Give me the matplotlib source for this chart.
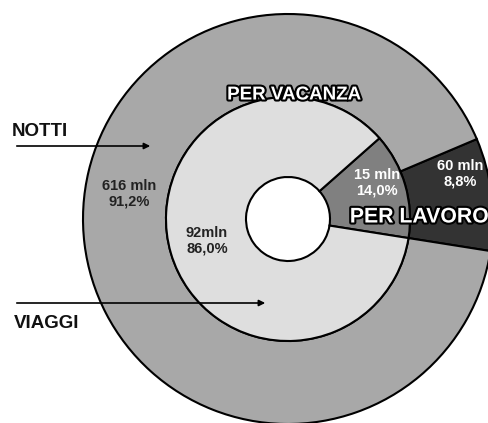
from matplotlib import pyplot as plt
import matplotlib.patheffects as pe

# order: per lavoro, per vacanza
categories = ['PER LAVORO', 'PER VACANZA']
notti_mln = [60, 616]
notti_labels = ['60 mln\n8,8%', '616 mln\n91,2%']
viaggi_mln = [15, 92]
viaggi_labels = ['15 mln\n14,0%', '92mln\n86,0%']

W, H = 489, 423
cx, cy = 288, H - 219
r_out, r_mid, r_hole = 205, 122, 42

plt.rcParams['font.family'] = ['Liberation Sans', 'DejaVu Sans']

fig = plt.figure(figsize=(W / 100, H / 100), dpi=100)
ax = fig.add_axes([0, 0, 1, 1])

edge = dict(edgecolor='black', linewidth=1.5)
ax.pie(notti_mln, colors=['#333333', '#a8a8a8'], startangle=-9,
       radius=r_out, center=(cx, cy),
       wedgeprops=dict(width=r_out - r_mid, **edge))
ax.pie(viaggi_mln, colors=['#808080', '#dedede'], startangle=-9,
       radius=r_mid, center=(cx, cy),
       wedgeprops=dict(width=r_mid - r_hole, **edge))

ax.set_xlim(0, W)
ax.set_ylim(0, H)
ax.set_aspect('equal')
ax.axis('off')

# value labels
ax.text(129, H - 194, notti_labels[1], ha='center', va='center',
        fontsize=10.5, fontweight='bold', color='#222222', linespacing=1.1)
ax.text(460, H - 174, notti_labels[0], ha='center', va='center',
        fontsize=10.5, fontweight='bold', color='white', linespacing=1.1)
ax.text(207, H - 241, viaggi_labels[1], ha='center', va='center',
        fontsize=10.5, fontweight='bold', color='#222222', linespacing=1.1)
ax.text(377, H - 183, viaggi_labels[0], ha='center', va='center',
        fontsize=10.5, fontweight='bold', color='white', linespacing=1.1)

outline = [pe.withStroke(linewidth=3, foreground='black')]
ax.text(294, H - 95, categories[1], ha='center', va='center',
        fontsize=13.5, fontweight='bold', color='white', path_effects=outline)
ax.text(419, H - 217, categories[0], ha='center', va='center',
        fontsize=15.3, fontweight='bold', color='white', path_effects=outline)

# ring captions with arrows
ax.text(12, H - 131, 'NOTTI', ha='left', va='center',
        fontsize=13.5, fontweight='bold', color='#111111')
ax.annotate('', xy=(153, H - 146), xytext=(14, H - 146),
            arrowprops=dict(arrowstyle='-|>', color='black', lw=1.2,
                            mutation_scale=9))
ax.text(14, H - 323, 'VIAGGI', ha='left', va='center',
        fontsize=13.5, fontweight='bold', color='#111111')
ax.annotate('', xy=(268, H - 303), xytext=(14, H - 303),
            arrowprops=dict(arrowstyle='-|>', color='black', lw=1.2,
                            mutation_scale=9))

fig.savefig('out.png', dpi=100)
